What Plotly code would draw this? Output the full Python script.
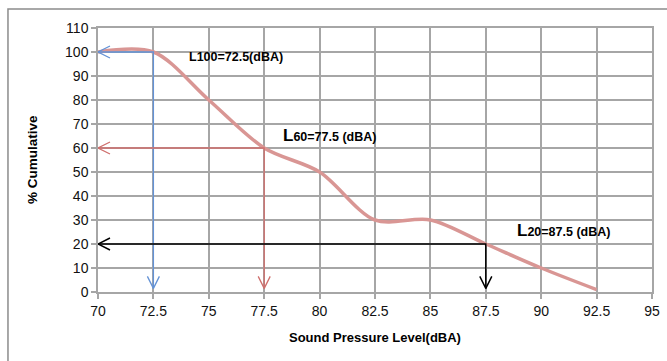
import plotly.graph_objects as go

# Data
spl_levels = [70, 72.5, 75, 77.5, 80, 82.5, 85, 87.5, 90, 92.5]
cum_percent = [100, 100, 80, 60, 50, 30, 30, 20, 10, 1]
x_ticks = [70, 72.5, 75, 77.5, 80, 82.5, 85, 87.5, 90, 92.5, 95]
y_ticks = list(range(0, 111, 10))
l_percent = [100, 60, 20]
l_values = [72.5, 77.5, 87.5]
l_colors = ["#6392d6", "#cf6f6d", "#000000"]
l_widths = [1.3, 1.3, 1.5]
l_labels = ["L100=72.5(dBA)",
            "<span style='font-size:17px'>L</span>60=77.5 (dBA)",
            "<span style='font-size:17px'>L</span>20=87.5 (dBA)"]
label_pos = [(74.02, 97.9), (78.26, 65.4), (88.82, 25.8)]

# pixel -> data conversion (plot area 554 x 264 px)
PX_X = (95 - 70) / 554.0
PX_Y = (110 - 0) / 264.0
TIP_Y = 1.5          # vertical arrows stop just above the x axis
HEAD_LEN, HEAD_HALF = 12, 6   # arrowhead size in px

fig = go.Figure()
fig.add_trace(go.Scatter(
    x=spl_levels, y=cum_percent, mode="lines",
    line=dict(color="#d99694", width=3.5, shape="spline", smoothing=0.9),
    showlegend=False, hoverinfo="skip"))

x0 = x_ticks[0]
for p, v, c, w in zip(l_percent, l_values, l_colors, l_widths):
    xs = [x0, v, v, None,
          x0 + HEAD_LEN * PX_X, x0, x0 + HEAD_LEN * PX_X, None,
          v - HEAD_HALF * PX_X, v, v + HEAD_HALF * PX_X]
    ys = [p, p, TIP_Y, None,
          p + HEAD_HALF * PX_Y, p, p - HEAD_HALF * PX_Y, None,
          TIP_Y + HEAD_LEN * PX_Y, TIP_Y, TIP_Y + HEAD_LEN * PX_Y]
    fig.add_trace(go.Scatter(x=xs, y=ys, mode="lines", line=dict(color=c, width=w),
                             showlegend=False, hoverinfo="skip", cliponaxis=False))

ann = []
for (lx, ly), txt in zip(label_pos, l_labels):
    ann.append(dict(x=lx, y=ly, xref="x", yref="y", text="<b>" + txt + "</b>",
                    showarrow=False, xanchor="left", yanchor="middle",
                    font=dict(family="Liberation Sans", size=12.5, color="#000")))

# axis titles
ann.append(dict(x=0.5, y=-45 / 264, xref="paper", yref="paper", showarrow=False,
                text="<b>Sound Pressure Level(dBA)</b>", xanchor="center", yanchor="middle",
                font=dict(family="Liberation Sans", size=13, color="#000")))
ann.append(dict(x=-66 / 554, y=0.5, xref="paper", yref="paper", showarrow=False,
                text="<b>% Cumulative</b>", textangle=-90, xanchor="center", yanchor="middle",
                font=dict(family="Liberation Sans", size=13.5, color="#000")))

fig.update_layout(
    width=667, height=361,
    margin=dict(l=98, r=15, t=28, b=69, autoexpand=False),
    paper_bgcolor="white", plot_bgcolor="white",
    font=dict(family="Liberation Sans", color="#000"),
    annotations=ann,
    shapes=[dict(type="rect", xref="paper", yref="paper",
                 x0=-0.1625, x1=1.3, y0=-0.4, y1=1.072,
                 line=dict(color="#8c8c8c", width=1.5), layer="below")],
    xaxis=dict(range=[70, 95], tickvals=x_ticks, ticktext=[f"{t:g}" for t in x_ticks],
               showgrid=True, gridcolor="#a6a6a6", gridwidth=1.5,
               showline=True, linecolor="#a6a6a6", linewidth=1.5,
               ticks="outside", ticklen=5, tickcolor="#a6a6a6", tickwidth=1.5,
               tickfont=dict(size=14, color="#111"), zeroline=False, mirror=True,
               automargin=False),
    yaxis=dict(range=[0, 110], tickvals=y_ticks,
               showgrid=True, gridcolor="#a6a6a6", gridwidth=1.5,
               showline=True, linecolor="#a6a6a6", linewidth=1.5,
               ticks="outside", ticklen=5, tickcolor="#a6a6a6", tickwidth=1.5,
               tickfont=dict(size=14, color="#111"), zeroline=False, mirror=True,
               automargin=False),
)

fig.write_html("out.html", config={"displayModeBar": False},
               post_script="document.body.style.margin='0';document.body.style.overflow='hidden';")
